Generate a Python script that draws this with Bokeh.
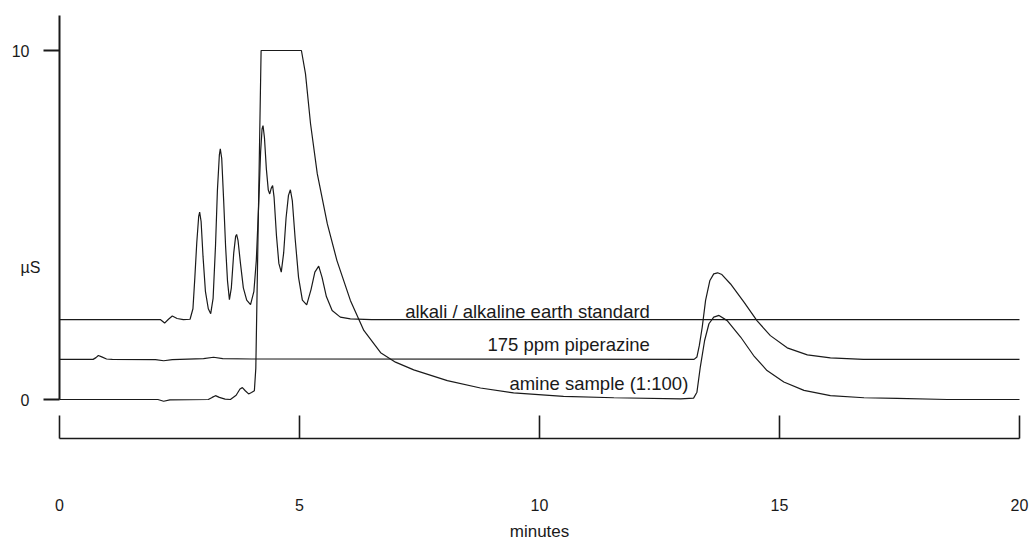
from bokeh.plotting import figure
from bokeh.models import Range1d, FixedTicker, Label
from bokeh.embed import file_html
from bokeh.resources import INLINE

# ---- data (time in minutes, conductivity in µS) ----
std_t = [0.0, 2.10, 2.19, 2.27, 2.35, 2.45, 2.58, 2.72, 2.78, 2.82, 2.86, 2.90, 2.92,
         2.95, 2.99, 3.04, 3.10, 3.15, 3.20, 3.25, 3.29, 3.33, 3.35, 3.38, 3.42, 3.46,
         3.50, 3.54, 3.58, 3.63, 3.67, 3.69, 3.72, 3.77, 3.83, 3.90, 3.98, 4.05, 4.10,
         4.15, 4.19, 4.22, 4.24, 4.27, 4.31, 4.35, 4.38, 4.41, 4.44, 4.47, 4.52, 4.57,
         4.62, 4.67, 4.72, 4.77, 4.81, 4.85, 4.91, 4.98, 5.06, 5.15, 5.24, 5.32, 5.40,
         5.47, 5.56, 5.68, 5.85, 6.06, 6.50, 20.0]
std_v = [2.29, 2.29, 2.19, 2.30, 2.39, 2.32, 2.29, 2.30, 2.60, 3.50, 4.50, 5.25, 5.37,
         5.10, 4.10, 3.10, 2.60, 2.46, 2.90, 4.40, 6.00, 7.00, 7.18, 6.90, 5.70, 4.40,
         3.40, 2.86, 3.20, 4.20, 4.68, 4.73, 4.55, 3.90, 3.20, 2.85, 2.72, 3.10, 3.98,
         5.60, 7.10, 7.75, 7.85, 7.50, 6.60, 6.00, 5.89, 6.05, 6.13, 5.80, 4.70, 3.90,
         3.65, 4.20, 5.20, 5.85, 6.01, 5.70, 4.60, 3.50, 2.85, 2.71, 3.15, 3.65, 3.82,
         3.50, 2.95, 2.55, 2.36, 2.31, 2.29, 2.29]

pip_t = [0.0, 0.70, 0.76, 0.81, 0.88, 0.98, 1.10, 2.00, 2.17, 2.35, 3.00, 3.21, 3.40,
         4.00, 13.22, 13.28, 13.33, 13.39, 13.46, 13.55, 13.63, 13.71, 13.80, 13.98,
         14.26, 14.53, 14.81, 15.16, 15.58, 16.06, 16.75, 20.0]
pip_v = [1.15, 1.15, 1.20, 1.26, 1.22, 1.16, 1.15, 1.14, 1.11, 1.14, 1.17, 1.21, 1.17,
         1.16, 1.15, 1.22, 1.55, 2.07, 2.84, 3.41, 3.60, 3.63, 3.58, 3.31,
         2.79, 2.26, 1.83, 1.48, 1.28, 1.19, 1.15, 1.15]

amine_t = [0.0, 2.05, 2.17, 2.30, 3.10, 3.18, 3.25, 3.33, 3.45, 3.56, 3.68, 3.76, 3.81,
           3.87, 3.94, 4.00, 4.06, 4.09, 4.20, 5.04, 5.125, 5.23, 5.37, 5.58, 5.78, 6.06,
           6.34, 6.69, 7.00, 7.38, 8.08, 8.77, 9.46, 10.5, 11.55, 12.94, 13.21, 13.28,
           13.35, 13.44, 13.53, 13.63, 13.74, 13.91, 14.19, 14.46, 14.74, 15.09, 15.51,
           16.06, 16.76, 17.45, 18.5, 20.0]
amine_v = [0.0, 0.0, -0.05, -0.01, 0.0, 0.06, 0.11, 0.06, 0.01, 0.0, 0.12, 0.30, 0.34,
           0.25, 0.16, 0.20, 0.25, 0.90, 10.0, 10.0, 9.33, 7.90, 6.47, 5.03, 3.98, 2.84,
           1.98, 1.34, 1.07, 0.85, 0.54, 0.33, 0.19, 0.09, 0.05, 0.02, 0.04, 0.21,
           0.93, 1.69, 2.17, 2.36, 2.41, 2.26, 1.79, 1.26, 0.83, 0.50, 0.26,
           0.11, 0.05, 0.03, 0.0, 0.0]

trace_labels = ["alkali / alkaline earth standard", "175 ppm piperazine", "amine sample (1:100)"]
label_x = [12.3, 12.3, 13.1]
label_y = [2.52, 1.58, 0.46]

x_ticks = [0, 5, 10, 15, 20]
y_ticks = [0, 10]

FONT = "Liberation Sans"
INK = "#1a1a1a"

# frame fills the whole canvas; axes are pinned at fixed data locations
PX_PER_MIN = 48.0
PX_PER_US = 34.9
W, H = 1030, 543
X0, Y0 = 59, 399          # pixel position of (0 min, 0 µS)

p = figure(width=W, height=H, output_backend="svg", toolbar_location=None,
           x_range=Range1d(-X0 / PX_PER_MIN, (W - X0) / PX_PER_MIN),
           y_range=Range1d(-(H - Y0) / PX_PER_US, Y0 / PX_PER_US),
           min_border=0, min_border_left=0, min_border_right=0,
           min_border_top=0, min_border_bottom=0)
p.outline_line_color = None
p.xgrid.visible = False
p.ygrid.visible = False
p.background_fill_color = "white"
p.border_fill_color = "white"

for t, v in [(std_t, std_v), (pip_t, pip_v), (amine_t, amine_v)]:
    p.line(t, v, line_color=INK, line_width=1.2)

# x axis (drawn below the traces, ticks pointing up)
xa = p.xaxis[0]
xa.fixed_location = -(438 - Y0) / PX_PER_US
xa.ticker = FixedTicker(ticks=x_ticks)
xa.bounds = (0, 20)
xa.axis_line_width = 1.6
xa.axis_line_color = INK
xa.major_tick_in = 23
xa.major_tick_out = 0
xa.major_tick_line_width = 1.6
xa.major_tick_line_color = INK
xa.minor_tick_line_color = None
xa.major_label_standoff = 60
xa.major_label_text_font = FONT
xa.major_label_text_font_size = "16px"
xa.major_label_text_color = INK

# y axis
ya = p.yaxis[0]
ya.fixed_location = 0
ya.ticker = FixedTicker(ticks=y_ticks)
ya.bounds = (0, 11)
ya.axis_line_width = 2
ya.axis_line_color = INK
ya.major_tick_in = 0
ya.major_tick_out = 16
ya.major_tick_line_width = 2
ya.major_tick_line_color = INK
ya.minor_tick_line_color = None
ya.major_label_standoff = 14
ya.major_label_text_font = FONT
ya.major_label_text_font_size = "16px"
ya.major_label_text_color = INK

for txt, lx, ly in zip(trace_labels, label_x, label_y):
    p.add_layout(Label(x=lx, y=ly, text=txt, text_align="right", text_baseline="alphabetic",
                       text_font=FONT, text_font_size="18.5px", text_color=INK))

p.add_layout(Label(x=-39 / PX_PER_MIN, y=(Y0 - 267) / PX_PER_US, text="µS",
                   text_align="left", text_baseline="middle", text_font=FONT,
                   text_font_size="16px", text_color=INK))
p.add_layout(Label(x=10, y=-(531 - Y0) / PX_PER_US, text="minutes", text_align="center",
                   text_baseline="middle", text_font=FONT, text_font_size="17px",
                   text_color=INK))

open("out.html", "w").write(file_html(p, INLINE))
